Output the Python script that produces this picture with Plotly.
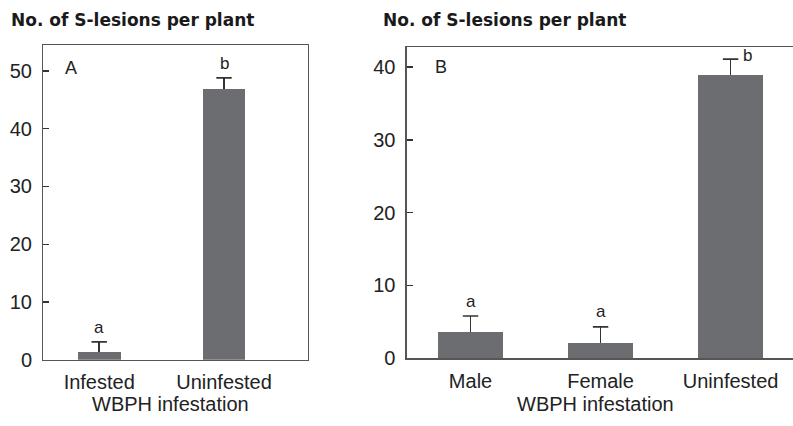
import plotly.graph_objects as go

# ---- data ----
cats_a = ["Infested", "Uninfested"]
vals_a = [1.4, 46.9]
errs_a = [1.7, 1.9]
letters_a = ["a", "b"]

cats_b = ["Male", "Female", "Uninfested"]
vals_b = [3.6, 2.1, 38.9]
errs_b = [2.2, 2.2, 2.2]
letters_b = ["a", "a", "b"]

yticks_a = [0, 10, 20, 30, 40, 50]
yticks_b = [0, 10, 20, 30, 40]

title_text = "No. of S-lesions per plant"
xtitle_text = "WBPH infestation"

# ---- style ----
W, H = 793, 426
BAR = "#6c6d71"
ERR = "#333333"
LINE = "#555555"
FONT = "Liberation Sans"

fig = go.Figure()


def add_panel(cats, vals, errs, width, xa, ya):
    fig.add_trace(go.Bar(
        x=cats, y=vals, width=width, marker=dict(color=BAR, line=dict(width=0)),
        error_y=dict(type="data", symmetric=False, array=errs, arrayminus=[0] * len(errs),
                     color=ERR, thickness=1.6, width=0),
        xaxis=xa, yaxis=ya, showlegend=False, hoverinfo="skip"))
    # top caps of the one-sided error bars
    fig.add_trace(go.Scatter(
        x=cats, y=[v + e for v, e in zip(vals, errs)], mode="markers",
        marker=dict(symbol="line-ew", size=11, line=dict(color=ERR, width=1.6)),
        xaxis=xa, yaxis=ya, showlegend=False, hoverinfo="skip"))


add_panel(cats_a, vals_a, errs_a, 0.342, "x", "y")
add_panel(cats_b, vals_b, errs_b, 0.495, "x2", "y2")

axis_common = dict(showgrid=False, zeroline=False, showline=True, linecolor=LINE, linewidth=1.3,
                   tickfont=dict(family=FONT, size=20, color="#222"))

fig.update_layout(
    width=W, height=H,
    margin=dict(l=0, r=0, t=0, b=0),
    paper_bgcolor="white", plot_bgcolor="white",
    bargap=0,
    xaxis=dict(domain=[43.3 / W, 308 / W], range=[-0.448, 1.673], anchor="y",
               ticks="", mirror=True, ticklabelstandoff=4, **axis_common),
    yaxis=dict(domain=[1 - 369.3 / H, 1 - 46.7 / H], range=[0, 54.4], anchor="x",
               tickvals=yticks_a, ticks="inside", ticklen=6, tickcolor="#333", tickwidth=1.3,
               mirror=True, ticklabelstandoff=6, **axis_common),
    xaxis2=dict(domain=[406.7 / W, 1.0], range=[-0.491, 2.48], anchor="y2",
                ticks="", mirror=True, ticklabelstandoff=4, **axis_common),
    yaxis2=dict(domain=[1 - 367.7 / H, 1 - 48.3 / H], range=[0, 42.76], anchor="x2",
                tickvals=yticks_b, ticks="inside", ticklen=6, tickcolor="#333", tickwidth=1.3,
                mirror=False, ticklabelstandoff=6, **axis_common),
)

ann = []
# significance letters
for c, v, e, l in zip(cats_a, vals_a, errs_a, letters_a):
    ann.append(dict(x=c, y=v + e, xref="x", yref="y", text=l, showarrow=False,
                    yanchor="middle", yshift=14, font=dict(family=FONT, size=17, color="#222")))
for i, (c, v, e, l) in enumerate(zip(cats_b, vals_b, errs_b, letters_b)):
    last = i == len(cats_b) - 1
    ann.append(dict(x=c, y=v + e, xref="x2", yref="y2", text=l, showarrow=False,
                    yanchor="middle", yshift=4 if last else 15, xshift=17 if last else 0,
                    font=dict(family=FONT, size=17, color="#222")))
# panel letters
ann.append(dict(x=70.7 / W, y=1 - 69.3 / H, xref="paper", yref="paper", text="A", showarrow=False,
                xanchor="center", yanchor="middle", font=dict(family=FONT, size=18, color="#222")))
ann.append(dict(x=441 / W, y=1 - 69 / H, xref="paper", yref="paper", text="B", showarrow=False,
                xanchor="center", yanchor="middle", font=dict(family=FONT, size=18, color="#222")))
# titles
for xp in (9 / W, 381 / W):
    ann.append(dict(x=xp, y=1 - 20.7 / H, xref="paper", yref="paper", text="<b>" + title_text + "</b>",
                    showarrow=False, xanchor="left", yanchor="middle",
                    font=dict(family="DejaVu Sans", size=17, color="#1a1a1a")))
# x-axis titles
for xp in (170.8 / W, 595 / W):
    ann.append(dict(x=xp, y=1 - 415 / H, xref="paper", yref="paper", text=xtitle_text,
                    showarrow=False, xanchor="center", yanchor="middle",
                    font=dict(family=FONT, size=20, color="#222")))

fig.update_layout(annotations=ann)

post = ("document.documentElement.style.margin='0';document.documentElement.style.overflow='hidden';"
        "document.body.style.margin='0';document.body.style.overflow='hidden';"
        "var gd=document.getElementById('{plot_id}');gd.style.position='fixed';"
        "gd.style.top='0px';gd.style.left='0px';")
fig.write_html("out.html", config={"displayModeBar": False, "staticPlot": True}, post_script=post)
